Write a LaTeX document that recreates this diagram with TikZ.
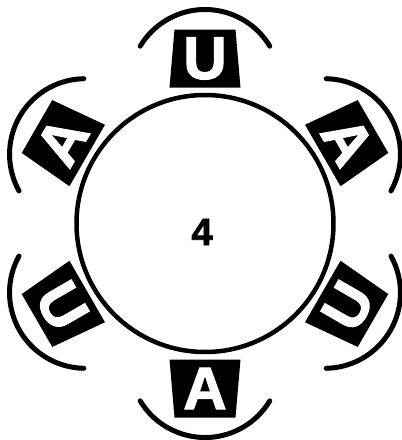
\documentclass[tikz,border=0pt]{standalone}
\usepackage{fontspec}
\setmainfont{Liberation Sans}
\newfontfamily\heavyfont[FakeBold=2]{Liberation Sans Bold}
\begin{document}
\begin{tikzpicture}[x=1pt,y=1pt,
  seatbox/.style={fill=black},
  seatarc/.style={line width=5pt,line cap=round},
  seatletter/.style={text=white,inner sep=0pt,font=\heavyfont\fontsize{60}{60}\selectfont},
  tablecirc/.style={circle,draw,line width=4.5pt,minimum size=257pt,inner sep=0pt}]
\useasboundingbox (-205,-216.5) rectangle (197,223.5);
\node[tablecirc] (table) at (0,0) {};
\node[inner sep=0pt,font=\heavyfont\fontsize{38}{38}\selectfont] (num) at (-3,-8.5) {4};
\foreach \a/\l/\r [count=\i] in {90/U/0, 30/A/-60, -30/U/60, -90/A/0, -150/U/-60, 150/A/60}{
  \begin{scope}[shift={(\a:165)}, rotate=\a-90]
    \fill[seatbox] (-35.5,-29) -- (35.5,-29) -- (30.5,29) -- (-30.5,29) -- cycle;
    \draw[seatarc] (0,-26.6) ++(31:75.6) arc[start angle=31,end angle=149,radius=75.6];
  \end{scope}
  \node[seatletter,rotate=\r] (seat\i) at (\a:165) {\l};
}
\end{tikzpicture}
\end{document}
